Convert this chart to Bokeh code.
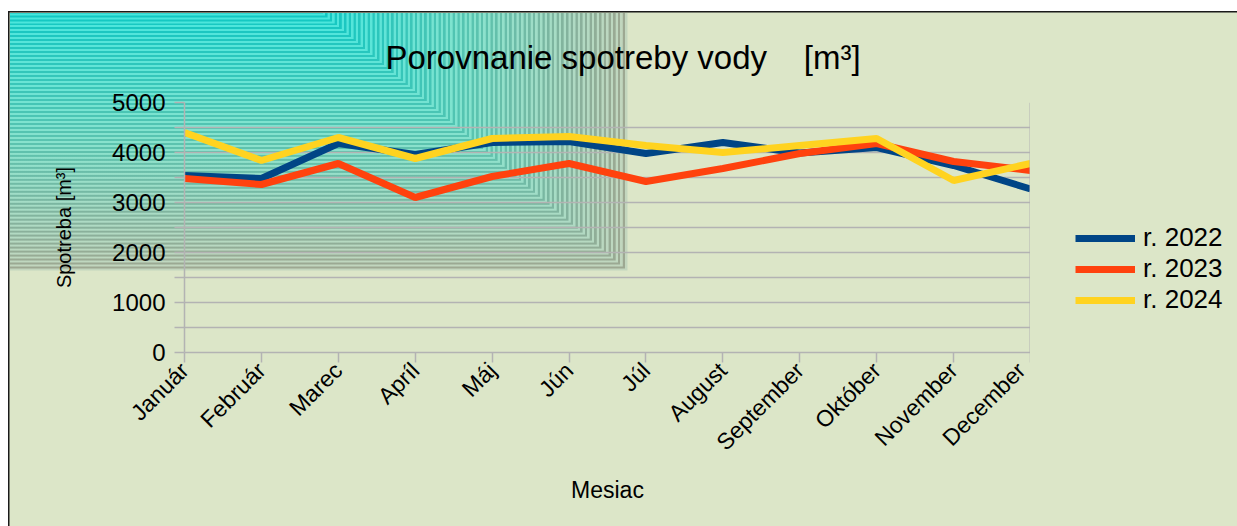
from bokeh.plotting import figure
from bokeh.layouts import row
from bokeh.models import (Range1d, FixedTicker, Legend, LegendItem, Span, ColumnDataSource)
from bokeh.embed import file_html
from bokeh.resources import INLINE
from math import pi

months = ["Január", "Február", "Marec", "Apríl", "Máj", "Jún", "Júl", "August",
          "September", "Október", "November", "December"]
v2022 = [3540, 3480, 4180, 3960, 4200, 4220, 3980, 4200, 3990, 4100, 3740, 3270]
v2023 = [3480, 3360, 3780, 3100, 3520, 3780, 3420, 3680, 3980, 4180, 3820, 3640]
v2024 = [4400, 3840, 4300, 3880, 4280, 4320, 4140, 4000, 4140, 4280, 3440, 3780]
series_names = ["r. 2022", "r. 2023", "r. 2024"]
y_ticks = [0, 1000, 2000, 3000, 4000, 5000]
y_minor = [500, 1500, 2500, 3500, 4500]
title_text = "Porovnanie spotreby vody \u00a0\u00a0\u00a0[m³]"
x_title = "Mesiac"
y_title = "Spotreba [m³]"

FONT = "Liberation Sans"
GRID = "#b3b3b3"
BG = "#dce6c8"
colors = ["#004586", "#ff420e", "#ffd320"]

idx = list(range(len(months)))
src = ColumnDataSource(dict(x=idx, a=v2022, b=v2023, c=v2024))

# ---- decorative chart-area background (CSS layers): border, rectangular gradient, fill
def lerp(c1, c2, f):
    return tuple(int(round(a + (b - a) * f)) for a, b in zip(c1, c2))

def grad(t, light):
    if light:
        c0, c5, c1 = (195, 214, 190), (135, 226, 205), (70, 230, 222)
    else:
        c0, c5, c1 = (158, 168, 146), (90, 196, 176), (15, 200, 196)
    if t < 0.5:
        c = lerp(c0, c5, t / 0.5)
    else:
        c = lerp(c5, c1, (t - 0.5) / 0.5)
    return "#%02x%02x%02x" % c

layers = []
layers.append("linear-gradient(#1a1a1a,#1a1a1a) 8px 11px / 100% 1.5px no-repeat")
layers.append("linear-gradient(#1a1a1a,#1a1a1a) 8px 11px / 1.5px 100% no-repeat")
N = 130
gl = []
for k in range(N):
    t = k / N
    w = 627 - 307 * t - 9.5
    h = 270 - 259 * t - 12.5
    c = grad(t, k % 2 == 0)
    gl.append(f"linear-gradient({c},{c}) 9.5px 12.5px / {w:.1f}px {h:.1f}px no-repeat")
layers.extend(reversed(gl))
layers.append(f"linear-gradient({BG},{BG}) 8px 11px / 100% 100% no-repeat")
css_bg = ", ".join(layers) + ", #ffffff"

css_bg_right = ("linear-gradient(#1a1a1a,#1a1a1a) 0px 11px / 100% 1.5px no-repeat, "
                f"linear-gradient({BG},{BG}) 0px 11px / 100% 100% no-repeat, #ffffff")

p = figure(width=1030, height=526, output_backend="svg", toolbar_location=None,
           x_range=Range1d(0, len(months) - 1), y_range=Range1d(0, 5000),
           min_border_left=184, min_border_right=0, min_border_top=102, min_border_bottom=174,
           title=title_text)
p.styles = {"background": css_bg}
p.background_fill_color = None
p.border_fill_color = None
p.outline_line_color = None

# title
p.title.text_font = FONT
p.title.text_font_size = "33px"
p.title.text_font_style = "normal"
p.title.text_color = "black"
p.title.align = "left"
p.title.offset = 201
p.title.standoff = 54

# axes
p.xaxis.ticker = FixedTicker(ticks=idx)
p.xaxis.major_label_overrides = {i: m for i, m in enumerate(months)}
p.xaxis.major_label_orientation = pi / 4
p.yaxis.ticker = FixedTicker(ticks=y_ticks, minor_ticks=y_minor)
for ax in (p.xaxis, p.yaxis):
    ax.axis_line_color = GRID
    ax.axis_line_width = 1.5
    ax.major_tick_line_color = GRID
    ax.major_tick_line_width = 1.5
    ax.major_tick_in = 0
    ax.major_tick_out = 10
    ax.major_label_text_font = FONT
    ax.major_label_text_color = "black"
    ax.axis_label_text_font = FONT
    ax.axis_label_text_font_style = "normal"
    ax.axis_label_text_color = "black"
p.xaxis.minor_tick_line_color = None
p.yaxis.minor_tick_line_color = GRID
p.yaxis.minor_tick_line_width = 1.5
p.yaxis.minor_tick_in = 0
p.yaxis.minor_tick_out = 10
p.yaxis.major_label_text_font_size = "24px"
p.xaxis.major_label_text_font_size = "23px"
p.yaxis.major_label_standoff = 9
p.xaxis.major_label_standoff = 4
p.xaxis.axis_label = x_title
p.xaxis.axis_label_text_font_size = "23px"
p.xaxis.axis_label_standoff = 10
p.yaxis.axis_label = y_title
p.yaxis.axis_label_text_font_size = "20px"
p.yaxis.axis_label_standoff = 34

p.xgrid.grid_line_color = None
p.ygrid.grid_line_color = GRID
p.ygrid.grid_line_width = 1.5
p.ygrid.minor_grid_line_color = GRID
p.ygrid.minor_grid_line_width = 1.5
p.add_layout(Span(location=len(months) - 1, dimension="height", line_color=GRID, line_width=2))

# lines
r1 = p.line("x", "a", source=src, line_color=colors[0], line_width=7)
r2 = p.line("x", "b", source=src, line_color=colors[1], line_width=7)
r3 = p.line("x", "c", source=src, line_color=colors[2], line_width=7)

# legend panel (right of the plot area); its frame is aligned with the main plot's frame
q = figure(width=207, height=526, output_backend="svg", toolbar_location=None,
           x_range=Range1d(0, 1), y_range=Range1d(0, 1),
           x_axis_location=None, y_axis_location=None,
           min_border_left=0, min_border_right=0, min_border_top=0, min_border_bottom=0)
q.styles = {"background": css_bg_right}
q.background_fill_color = None
q.border_fill_color = None
q.outline_line_color = None
q.xgrid.visible = False
q.ygrid.visible = False
k1 = q.line(x=[-1], y=[-1], line_color=colors[0], line_width=7)
k2 = q.line(x=[-1], y=[-1], line_color=colors[1], line_width=7)
k3 = q.line(x=[-1], y=[-1], line_color=colors[2], line_width=7)

legend = Legend(items=[LegendItem(label=series_names[0], renderers=[k1]),
                       LegendItem(label=series_names[1], renderers=[k2]),
                       LegendItem(label=series_names[2], renderers=[k3])],
                location=(45, 37), glyph_width=60, glyph_height=30, label_height=30,
                label_standoff=8, spacing=0, padding=0, margin=0,
                border_line_color=None, background_fill_alpha=0,
                label_text_font=FONT, label_text_font_size="26px", label_text_color="black")
q.add_layout(legend)

layout = row(p, q, spacing=0)
open("out.html", "w").write(file_html(layout, INLINE))
